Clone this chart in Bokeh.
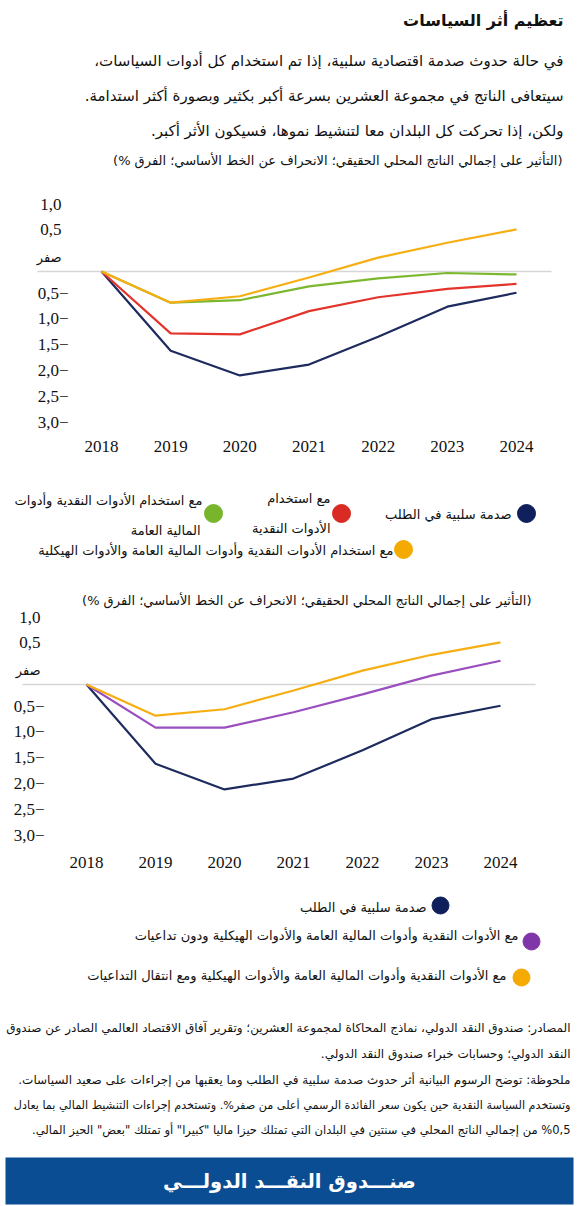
from bokeh.plotting import figure
from bokeh.models import Range1d, LinearAxis, FixedTicker, Label
from bokeh.layouts import column
from bokeh.embed import file_html
from bokeh.resources import INLINE
from bokeh.core.properties import value

# ---------------- data ----------------
YEARS = [2018, 2019, 2020, 2021, 2022, 2023, 2024]

# chart 1
shock = [0, -1.60, -2.10, -1.88, -1.32, -0.71, -0.43]
monetary = [0, -1.25, -1.27, -0.80, -0.52, -0.35, -0.25]
mon_fiscal = [0, -0.63, -0.58, -0.30, -0.14, -0.03, -0.06]
all_tools = [0, -0.63, -0.50, -0.12, 0.28, 0.58, 0.85]

# chart 2
shock2 = [0, -1.60, -2.12, -1.90, -1.33, -0.70, -0.43]
no_spill = [0, -0.87, -0.87, -0.56, -0.20, 0.18, 0.48]
with_spill = [0, -0.63, -0.50, -0.12, 0.28, 0.60, 0.85]

# y tick labels (as placed in the original graphic)
POS_TICKS = [1.36, 0.84]
POS_LABELS = ["1,0", "0,5"]
ZERO_TICKS = [0.28]
ZERO_LABELS = ["صفر"]
NEG_TICKS = [-0.45, -0.95, -1.47, -2.0, -2.53, -3.06]
NEG_LABELS = ["0,5−", "1,0−", "1,5−", "2,0−", "2,5−", "3,0−"]

C_NAVY = "#1E2B5E"
C_RED = "#E3342B"
C_GREEN = "#7CB82F"
C_YELLOW = "#F6AE12"
C_PURPLE = "#9A4FBE"
DOT_NAVY = "#0E1F5B"
DOT_RED = "#DA2A24"
DOT_GREEN = "#78B52C"
DOT_YELLOW = "#F4AA00"
DOT_PURPLE = "#8036A8"

TITLE = "تعظيم أثر السياسات"
INTRO = [
    "في حالة حدوث صدمة اقتصادية سلبية، إذا تم استخدام كل أدوات السياسات،",
    "سيتعافى الناتج في مجموعة العشرين بسرعة أكبر بكثير وبصورة أكثر استدامة.",
    "ولكن، إذا تحركت كل البلدان معا لتنشيط نموها، فسيكون الأثر أكبر.",
]
SUBTITLE = "(التأثير على إجمالي الناتج المحلي الحقيقي؛ الانحراف عن الخط الأساسي؛ الفرق %)"
LEG_SHOCK = "صدمة سلبية في الطلب"
LEG_MON = ["مع استخدام", "الأدوات النقدية"]
LEG_MF = ["مع استخدام الأدوات النقدية وأدوات", "المالية العامة"]
LEG_ALL = "مع استخدام الأدوات النقدية وأدوات المالية العامة والأدوات الهيكلية"
LEG_NOSPILL = "مع الأدوات النقدية وأدوات المالية العامة والأدوات الهيكلية ودون تداعيات"
LEG_SPILL = "مع الأدوات النقدية وأدوات المالية العامة والأدوات الهيكلية ومع انتقال التداعيات"
NOTES = [
    "المصادر: صندوق النقد الدولي، نماذج المحاكاة لمجموعة العشرين؛ وتقرير آفاق الاقتصاد العالمي الصادر عن صندوق",
    "النقد الدولي؛ وحسابات خبراء صندوق النقد الدولي.",
    "ملحوظة: توضح الرسوم البيانية أثر حدوث صدمة سلبية في الطلب وما يعقبها من إجراءات على صعيد السياسات.",
    "وتستخدم السياسة النقدية حين يكون سعر الفائدة الرسمي أعلى من صفر%. وتستخدم إجراءات التنشيط المالي بما يعادل",
    "%0,5 من إجمالي الناتج المحلي في سنتين في البلدان التي تمتلك حيزا ماليا \"كبيرا\" أو تمتلك \"بعض\" الحيز المالي.",
]
FOOTER = "صنـــدوق النقـــد الدولـــي"

# ---------------- helpers ----------------
W = 578
AR = value("DejaVu Sans")
SERIF = "Liberation Serif"
PPU = 49.5  # pixels per percentage point


def rtl(s):
    return "\u202B" + s + "\u202C"


def base_fig(y0, y1, xr, yr, **kw):
    p = figure(width=W, height=y1 - y0, x_range=xr, y_range=yr,
               y_axis_location=None, toolbar_location=None,
               output_backend="svg", outline_line_color=None, **kw)
    p.min_border_left = 0
    p.min_border_right = 0
    p.grid.visible = False
    return p


def text_fig(y0, y1):
    p = base_fig(y0, y1, Range1d(0, W), Range1d(y1, y0), x_axis_location=None)
    p.min_border_top = 0
    p.min_border_bottom = 0
    return p


def put(p, x, y, s, size, align="right", bold=False, color="#111111"):
    p.text(x=[x], y=[y], text=[rtl(s)], text_align=align, text_baseline="middle",
           text_font=AR, text_font_size=value(f"{size}px"),
           text_font_style="bold" if bold else "normal", text_color=color)


def add_yaxis(p, loc, ticks, labels, font, size):
    ya = LinearAxis(fixed_location=loc,
                    ticker=FixedTicker(ticks=ticks),
                    major_label_overrides={t: l for t, l in zip(ticks, labels)},
                    axis_line_color=None, major_tick_line_color=None,
                    minor_tick_line_color=None, major_label_standoff=2,
                    major_label_text_font=font, major_label_text_font_size=size,
                    major_label_text_color="#111111")
    p.add_layout(ya, "left")


def chart(y0, y1, ft, fb, x18, x24, zero_y, ax_pos, ax_neg, zl, zr):
    ppy = (x24 - x18) / 6.0
    px2x = lambda px: 2018 + (px - x18) / ppy
    xr = Range1d(px2x(0), px2x(W))
    yr = Range1d(-(fb - zero_y) / PPU, (zero_y - ft) / PPU)
    p = base_fig(y0, y1, xr, yr, x_axis_location="below")
    p.min_border_top = ft - y0
    p.min_border_bottom = y1 - fb
    xa = p.xaxis[0]
    xa.ticker = FixedTicker(ticks=YEARS)
    xa.axis_line_color = None
    xa.major_tick_line_color = None
    xa.minor_tick_line_color = None
    xa.major_label_standoff = 0
    xa.major_label_text_font = SERIF
    xa.major_label_text_font_size = "17px"
    xa.major_label_text_color = "#111111"
    add_yaxis(p, px2x(ax_pos), POS_TICKS, POS_LABELS, SERIF, "17px")
    add_yaxis(p, px2x(ax_pos), ZERO_TICKS, ZERO_LABELS, "DejaVu Sans", "13px")
    add_yaxis(p, px2x(ax_neg), NEG_TICKS, NEG_LABELS, SERIF, "17px")
    # baseline (zero) reference line
    p.line(x=[px2x(zl), px2x(zr)], y=[0, 0], line_color="#D6D6D6", line_width=1.5)
    return p, px2x


# ---------------- header ----------------
head = text_fig(0, 180)
put(head, 563, 20, TITLE, 16, bold=True)
for yy, s in zip([60, 95, 130], INTRO):
    put(head, 563, yy, s, 15)
put(head, 562, 160, SUBTITLE, 13)

# ---------------- chart 1 ----------------
c1, _ = chart(180, 462, 190, 434, 101, 516, 271, 69, 76, 37, 551)
for ser, col in [(shock, C_NAVY), (monetary, C_RED), (mon_fiscal, C_GREEN), (all_tools, C_YELLOW)]:
    c1.line(YEARS, ser, line_color=col, line_width=2.2)

# ---------------- legend 1 ----------------
mid = text_fig(462, 585)
mid.scatter(x=[526, 341, 213, 403], y=[513, 513, 513, 549], size=18,
            color=[DOT_NAVY, DOT_RED, DOT_GREEN, DOT_YELLOW])
put(mid, 511, 514, LEG_SHOCK, 13)
put(mid, 330, 498, LEG_MON[0], 13)
put(mid, 330, 528, LEG_MON[1], 13)
put(mid, 202, 500, LEG_MF[0], 13)
put(mid, 200, 530, LEG_MF[1], 13)
put(mid, 393, 550, LEG_ALL, 13)

# ---------------- chart 2 ----------------
c2, px2x2 = chart(585, 880, 588, 850, 86, 500, 684, 48, 52, 22, 535)
for ser, col in [(shock2, C_NAVY), (no_spill, C_PURPLE), (with_spill, C_YELLOW)]:
    c2.line(YEARS, ser, line_color=col, line_width=2.2)
c2.add_layout(Label(x=px2x2(531), y=(684 - 600) / PPU, text=rtl(SUBTITLE),
                    text_align="right", text_baseline="middle", text_font="DejaVu Sans",
                    text_font_size="13px", text_color="#111111"))

# ---------------- legend 2 + notes + footer ----------------
bot = text_fig(880, 1206)
bot.scatter(x=[440, 531, 521], y=[905, 941, 977], size=17,
            color=[DOT_NAVY, DOT_PURPLE, DOT_YELLOW])
put(bot, 426, 907, LEG_SHOCK, 13)
put(bot, 518, 935, LEG_NOSPILL, 13)
put(bot, 506, 975, LEG_SPILL, 13)
for yy, s, fs in zip([1027, 1053, 1079, 1105, 1129], NOTES, [12, 12, 12, 11.2, 11.5]):
    put(bot, 570, yy, s, fs)
bot.quad(left=[5], right=[573], top=[1157], bottom=[1204], fill_color="#0B4D92", line_color=None)
put(bot, 289, 1181, FOOTER, 19.5, align="center", bold=True, color="#FFFFFF")

layout = column(head, c1, mid, c2, bot, spacing=0)
open("out.html", "w").write(file_html(layout, INLINE))
